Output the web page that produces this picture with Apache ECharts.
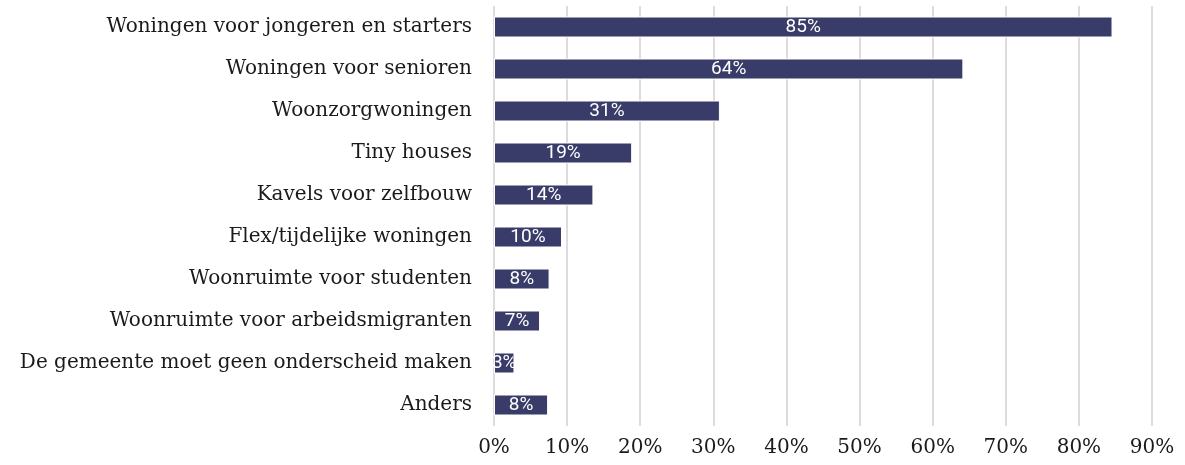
<!DOCTYPE html>
<html>
<head>
<meta charset="utf-8">
<script src="https://cdn.jsdelivr.net/npm/echarts@6/dist/echarts.min.js"></script>
<style>html,body{margin:0;padding:0;background:#fff}#c{width:1185px;height:465px}</style>
</head>
<body>
<div id="c"></div>
<script>
const categories = [
  "Woningen voor jongeren en starters",
  "Woningen voor senioren",
  "Woonzorgwoningen",
  "Tiny houses",
  "Kavels voor zelfbouw",
  "Flex/tijdelijke woningen",
  "Woonruimte voor studenten",
  "Woonruimte voor arbeidsmigranten",
  "De gemeente moet geen onderscheid maken",
  "Anders"
];
const values = [84.6, 64.2, 30.9, 18.9, 13.6, 9.3, 7.6, 6.3, 2.8, 7.4];
const valueLabels = ["85%", "64%", "31%", "19%", "14%", "10%", "8%", "7%", "3%", "8%"];
const xTicks = [0, 10, 20, 30, 40, 50, 60, 70, 80, 90];

const chart = echarts.init(document.getElementById('c'), null, {renderer: 'canvas'});
chart.setOption({
  animation: false,
  grid: {left: 494, right: 33, top: 6, bottom: 39, containLabel: false},
  xAxis: {
    type: 'value', min: 0, max: 90, interval: 10,
    axisLine: {show: false}, axisTick: {show: false},
    splitLine: {show: true, lineStyle: {color: '#dcdcdc', width: 2}},
    axisLabel: {
      formatter: v => xTicks.includes(v) ? v + '%' : '',
      fontFamily: 'DejaVu Serif', fontSize: 20, color: '#1a1a1a', margin: 12
    }
  },
  yAxis: {
    type: 'category', data: categories, inverse: true,
    axisLine: {show: false}, axisTick: {show: false},
    axisLabel: {fontFamily: 'DejaVu Serif', fontSize: 20, color: '#1a1a1a', margin: 22}
  },
  series: [{
    type: 'bar', data: values, barWidth: 21,
    itemStyle: {color: '#393c69', borderColor: '#ffffff', borderWidth: 1},
    label: {
      show: true, position: 'inside', color: '#ffffff',
      fontFamily: 'Roboto', fontSize: 19,
      formatter: p => valueLabels[p.dataIndex]
    }
  }]
});
</script>
</body>
</html>
